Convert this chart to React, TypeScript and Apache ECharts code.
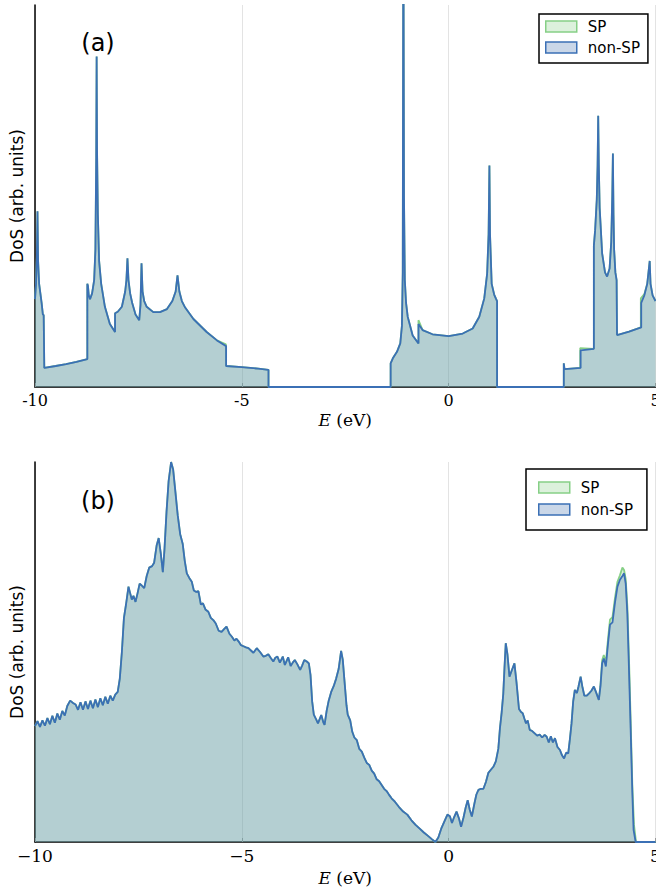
import React, { useEffect, useRef } from "react";
import * as echarts from "echarts";

// ---------- Panel (a): DoS vs E (eV), values normalized to axis top = 1 ----------
const dosA_nonSP: number[][] = [
  [-10.0, 0.23], [-9.975, 0.27], [-9.955, 0.34], [-9.94, 0.46], [-9.925, 0.33], [-9.9, 0.27],
  [-9.87, 0.245], [-9.84, 0.22], [-9.81, 0.19], [-9.79, 0.188], [-9.775, 0.05], [-9.5, 0.055],
  [-9.25, 0.06], [-9.0, 0.066], [-8.735, 0.073], [-8.735, 0.27], [-8.72, 0.265], [-8.7, 0.24],
  [-8.67, 0.23], [-8.62, 0.245], [-8.57, 0.28], [-8.54, 0.36], [-8.52, 0.6], [-8.51, 0.865],
  [-8.5, 0.62], [-8.48, 0.45], [-8.45, 0.33], [-8.4, 0.27], [-8.31, 0.21], [-8.19, 0.165],
  [-8.065, 0.144], [-8.065, 0.193], [-8.0, 0.197], [-7.9, 0.21], [-7.82, 0.25], [-7.79, 0.28],
  [-7.765, 0.337], [-7.74, 0.28], [-7.7, 0.245], [-7.65, 0.22], [-7.57, 0.19], [-7.48, 0.175],
  [-7.45, 0.215], [-7.425, 0.324], [-7.4, 0.25], [-7.36, 0.225], [-7.3, 0.21], [-7.14, 0.196],
  [-6.98, 0.196], [-6.81, 0.204], [-6.68, 0.225], [-6.6, 0.25], [-6.555, 0.292], [-6.51, 0.25],
  [-6.45, 0.225], [-6.37, 0.208], [-6.17, 0.178], [-5.85, 0.144], [-5.6, 0.122], [-5.38, 0.107],
  [-5.38, 0.055], [-5.0, 0.052], [-4.6, 0.048], [-4.355, 0.045], [-4.355, 0], [-1.403, 0],
  [-1.403, 0.062], [-1.35, 0.075], [-1.25, 0.092], [-1.17, 0.114], [-1.13, 0.16], [-1.11, 0.3],
  [-1.095, 1.3], [-1.08, 0.5], [-1.06, 0.28], [-1.03, 0.22], [-0.99, 0.184], [-0.87, 0.135],
  [-0.73, 0.114], [-0.73, 0.165], [-0.63, 0.149], [-0.39, 0.138], [0.0, 0.133], [0.34, 0.14],
  [0.58, 0.153], [0.74, 0.184], [0.86, 0.232], [0.93, 0.297], [0.965, 0.4], [0.985, 0.58],
  [1.0, 0.4], [1.04, 0.27], [1.1, 0.242], [1.14, 0.232], [1.17, 0.225], [1.17, 0], [2.783, 0],
  [2.783, 0.062], [2.8, 0.047], [3.19, 0.05], [3.19, 0.096], [3.51, 0.1], [3.51, 0.37],
  [3.54, 0.41], [3.58, 0.49], [3.6, 0.58], [3.615, 0.71], [3.63, 0.58], [3.65, 0.47],
  [3.71, 0.35], [3.78, 0.3], [3.83, 0.289], [3.89, 0.31], [3.93, 0.38], [3.955, 0.5],
  [3.97, 0.611], [3.985, 0.45], [4.0, 0.36], [4.03, 0.3], [4.06, 0.28], [4.07, 0.136],
  [4.36, 0.145], [4.655, 0.156], [4.655, 0.22], [4.73, 0.24], [4.8, 0.27], [4.84, 0.31],
  [4.86, 0.33], [4.88, 0.27], [4.93, 0.24], [5.0, 0.225],
];

const dosA_SP: number[][] = [
  [-10.0, 0.23], [-9.975, 0.27], [-9.955, 0.34], [-9.94, 0.46], [-9.925, 0.33], [-9.9, 0.27],
  [-9.87, 0.245], [-9.84, 0.22], [-9.81, 0.19], [-9.79, 0.188], [-9.775, 0.05], [-9.5, 0.055],
  [-9.25, 0.06], [-9.0, 0.066], [-8.735, 0.073], [-8.735, 0.27], [-8.72, 0.265], [-8.7, 0.24],
  [-8.67, 0.23], [-8.62, 0.245], [-8.57, 0.28], [-8.54, 0.36], [-8.52, 0.6], [-8.51, 0.865],
  [-8.5, 0.62], [-8.48, 0.45], [-8.45, 0.33], [-8.4, 0.27], [-8.31, 0.21], [-8.19, 0.165],
  [-8.065, 0.144], [-8.065, 0.193], [-8.0, 0.197], [-7.9, 0.21], [-7.82, 0.25], [-7.79, 0.28],
  [-7.765, 0.337], [-7.74, 0.28], [-7.7, 0.245], [-7.65, 0.22], [-7.57, 0.19], [-7.48, 0.175],
  [-7.45, 0.215], [-7.425, 0.324], [-7.4, 0.25], [-7.36, 0.225], [-7.3, 0.21], [-7.14, 0.196],
  [-6.98, 0.196], [-6.81, 0.204], [-6.68, 0.225], [-6.6, 0.25], [-6.555, 0.292], [-6.51, 0.25],
  [-6.45, 0.225], [-6.37, 0.208], [-6.17, 0.178], [-5.85, 0.144], [-5.6, 0.122], [-5.385, 0.112],
  [-5.38, 0.055], [-5.0, 0.052], [-4.6, 0.048], [-4.355, 0.045], [-4.355, 0], [-1.403, 0],
  [-1.403, 0.062], [-1.35, 0.075], [-1.25, 0.092], [-1.17, 0.114], [-1.13, 0.16], [-1.11, 0.3],
  [-1.095, 1.3], [-1.08, 0.5], [-1.06, 0.28], [-1.03, 0.22], [-0.99, 0.184], [-0.87, 0.135],
  [-0.73, 0.114], [-0.73, 0.175], [-0.63, 0.149], [-0.39, 0.138], [0.0, 0.133], [0.34, 0.14],
  [0.58, 0.153], [0.74, 0.184], [0.86, 0.232], [0.93, 0.297], [0.965, 0.4], [0.985, 0.58],
  [1.0, 0.4], [1.04, 0.27], [1.1, 0.242], [1.14, 0.232], [1.17, 0.225], [1.17, 0], [2.783, 0],
  [2.783, 0.062], [2.8, 0.047], [3.18, 0.05], [3.18, 0.102], [3.51, 0.1], [3.51, 0.37],
  [3.54, 0.41], [3.58, 0.49], [3.6, 0.58], [3.615, 0.71], [3.63, 0.58], [3.65, 0.47],
  [3.71, 0.35], [3.78, 0.3], [3.83, 0.289], [3.89, 0.31], [3.93, 0.38], [3.955, 0.5],
  [3.97, 0.611], [3.985, 0.45], [4.0, 0.36], [4.03, 0.3], [4.06, 0.28], [4.07, 0.136],
  [4.36, 0.145], [4.645, 0.156], [4.645, 0.232], [4.73, 0.243], [4.8, 0.27], [4.84, 0.31],
  [4.86, 0.33], [4.88, 0.27], [4.93, 0.24], [5.0, 0.225],
];

// ---------- Panel (b) ----------
const dosB_nonSP: number[][] = [
  [-10.0, 0.305], [-9.94, 0.318], [-9.88, 0.303], [-9.82, 0.32], [-9.76, 0.306], [-9.7, 0.326],
  [-9.64, 0.31], [-9.58, 0.332], [-9.52, 0.314], [-9.46, 0.338], [-9.4, 0.322], [-9.34, 0.345],
  [-9.28, 0.333], [-9.22, 0.358], [-9.15, 0.372], [-9.08, 0.366], [-9.02, 0.362], [-8.96, 0.348],
  [-8.9, 0.368], [-8.84, 0.348], [-8.78, 0.37], [-8.72, 0.35], [-8.66, 0.372], [-8.6, 0.352],
  [-8.54, 0.375], [-8.48, 0.355], [-8.42, 0.378], [-8.36, 0.36], [-8.3, 0.382], [-8.24, 0.364],
  [-8.18, 0.385], [-8.12, 0.372], [-8.06, 0.388], [-8.0, 0.395], [-7.95, 0.43], [-7.9, 0.5],
  [-7.85, 0.59], [-7.8, 0.625], [-7.74, 0.672], [-7.7, 0.655], [-7.66, 0.638], [-7.62, 0.648],
  [-7.57, 0.632], [-7.52, 0.655], [-7.47, 0.68], [-7.42, 0.675], [-7.36, 0.668], [-7.3, 0.7],
  [-7.24, 0.722], [-7.17, 0.726], [-7.12, 0.735], [-7.06, 0.78], [-7.01, 0.8], [-6.96, 0.76],
  [-6.91, 0.71], [-6.87, 0.77], [-6.82, 0.87], [-6.77, 0.95], [-6.71, 1.0], [-6.66, 0.98],
  [-6.61, 0.926], [-6.55, 0.86], [-6.49, 0.81], [-6.43, 0.785], [-6.38, 0.74], [-6.33, 0.707],
  [-6.27, 0.695], [-6.21, 0.685], [-6.16, 0.662], [-6.1, 0.658], [-6.05, 0.66], [-5.99, 0.625],
  [-5.94, 0.628], [-5.88, 0.612], [-5.81, 0.606], [-5.75, 0.59], [-5.69, 0.584], [-5.63, 0.575],
  [-5.56, 0.556], [-5.49, 0.553], [-5.43, 0.56], [-5.37, 0.567], [-5.3, 0.548], [-5.24, 0.54],
  [-5.18, 0.53], [-5.13, 0.535], [-5.08, 0.528], [-5.02, 0.518], [-4.96, 0.515], [-4.9, 0.512],
  [-4.84, 0.51], [-4.78, 0.504], [-4.72, 0.498], [-4.64, 0.51], [-4.56, 0.5], [-4.48, 0.488],
  [-4.42, 0.49], [-4.36, 0.494], [-4.3, 0.484], [-4.24, 0.475], [-4.19, 0.485], [-4.14, 0.488],
  [-4.08, 0.472], [-4.01, 0.488], [-3.96, 0.466], [-3.88, 0.486], [-3.82, 0.463], [-3.77, 0.472],
  [-3.72, 0.479], [-3.66, 0.468], [-3.59, 0.453], [-3.54, 0.465], [-3.49, 0.479], [-3.43, 0.475],
  [-3.38, 0.47], [-3.34, 0.44], [-3.3, 0.37], [-3.26, 0.335], [-3.2, 0.322], [-3.16, 0.312],
  [-3.08, 0.334], [-3.03, 0.315], [-3.0, 0.308], [-2.95, 0.345], [-2.9, 0.372], [-2.84, 0.395],
  [-2.78, 0.41], [-2.72, 0.43], [-2.66, 0.455], [-2.6, 0.503], [-2.56, 0.48], [-2.52, 0.426],
  [-2.47, 0.36], [-2.44, 0.335], [-2.38, 0.32], [-2.33, 0.29], [-2.28, 0.275], [-2.22, 0.268],
  [-2.16, 0.245], [-2.1, 0.238], [-2.04, 0.222], [-1.98, 0.208], [-1.92, 0.203], [-1.86, 0.188],
  [-1.8, 0.18], [-1.74, 0.165], [-1.68, 0.16], [-1.62, 0.15], [-1.56, 0.14], [-1.5, 0.134],
  [-1.44, 0.124], [-1.38, 0.115], [-1.3, 0.106], [-1.2, 0.092], [-1.1, 0.08], [-1.0, 0.072],
  [-0.9, 0.057], [-0.8, 0.045], [-0.7, 0.035], [-0.6, 0.025], [-0.5, 0.016], [-0.4, 0.007],
  [-0.32, 0.0], [-0.25, 0.012], [-0.18, 0.035], [-0.1, 0.055], [-0.03, 0.072], [0.03, 0.068],
  [0.08, 0.05], [0.13, 0.065], [0.19, 0.08], [0.25, 0.062], [0.3, 0.04], [0.36, 0.065],
  [0.41, 0.09], [0.46, 0.11], [0.51, 0.085], [0.56, 0.067], [0.62, 0.1], [0.67, 0.125],
  [0.72, 0.137], [0.78, 0.14], [0.84, 0.14], [0.9, 0.158], [0.96, 0.182], [1.02, 0.19],
  [1.08, 0.198], [1.14, 0.212], [1.2, 0.245], [1.24, 0.3], [1.28, 0.34], [1.32, 0.39],
  [1.35, 0.46], [1.38, 0.523], [1.42, 0.495], [1.47, 0.435], [1.52, 0.45], [1.59, 0.47],
  [1.64, 0.42], [1.7, 0.35], [1.75, 0.342], [1.79, 0.339], [1.83, 0.325], [1.87, 0.312],
  [1.91, 0.32], [1.96, 0.295], [2.02, 0.292], [2.08, 0.286], [2.14, 0.28], [2.2, 0.283],
  [2.26, 0.275], [2.32, 0.282], [2.37, 0.277], [2.42, 0.262], [2.47, 0.278], [2.52, 0.262],
  [2.57, 0.273], [2.63, 0.25], [2.69, 0.242], [2.74, 0.228], [2.79, 0.22], [2.84, 0.235],
  [2.89, 0.233], [2.93, 0.27], [2.97, 0.312], [3.01, 0.37], [3.05, 0.4], [3.1, 0.392],
  [3.14, 0.41], [3.19, 0.435], [3.23, 0.41], [3.28, 0.385], [3.34, 0.385], [3.4, 0.392],
  [3.45, 0.398], [3.51, 0.409], [3.56, 0.395], [3.63, 0.374], [3.67, 0.41], [3.71, 0.47],
  [3.75, 0.483], [3.8, 0.462], [3.85, 0.52], [3.9, 0.572], [3.96, 0.578], [4.02, 0.63],
  [4.08, 0.672], [4.14, 0.69], [4.2, 0.7], [4.24, 0.707], [4.28, 0.68], [4.32, 0.6],
  [4.36, 0.45], [4.4, 0.295], [4.44, 0.13], [4.47, 0.032], [4.52, 0.0], [5.0, 0.0],
];

const dosB_SP: number[][] = [
  [-10.0, 0.305], [-9.94, 0.318], [-9.88, 0.303], [-9.82, 0.32], [-9.76, 0.306], [-9.7, 0.326],
  [-9.64, 0.31], [-9.58, 0.332], [-9.52, 0.314], [-9.46, 0.338], [-9.4, 0.322], [-9.34, 0.345],
  [-9.28, 0.333], [-9.22, 0.358], [-9.15, 0.372], [-9.08, 0.366], [-9.02, 0.362], [-8.96, 0.348],
  [-8.9, 0.368], [-8.84, 0.348], [-8.78, 0.37], [-8.72, 0.35], [-8.66, 0.372], [-8.6, 0.352],
  [-8.54, 0.375], [-8.48, 0.355], [-8.42, 0.378], [-8.36, 0.36], [-8.3, 0.382], [-8.24, 0.364],
  [-8.18, 0.385], [-8.12, 0.372], [-8.06, 0.388], [-8.0, 0.395], [-7.95, 0.43], [-7.9, 0.5],
  [-7.85, 0.59], [-7.8, 0.625], [-7.74, 0.672], [-7.7, 0.655], [-7.66, 0.638], [-7.62, 0.648],
  [-7.57, 0.632], [-7.52, 0.655], [-7.47, 0.68], [-7.42, 0.675], [-7.36, 0.668], [-7.3, 0.7],
  [-7.24, 0.722], [-7.17, 0.726], [-7.12, 0.735], [-7.06, 0.78], [-7.01, 0.8], [-6.96, 0.76],
  [-6.91, 0.71], [-6.87, 0.77], [-6.82, 0.87], [-6.77, 0.95], [-6.71, 1.0], [-6.66, 0.98],
  [-6.61, 0.926], [-6.55, 0.86], [-6.49, 0.81], [-6.43, 0.785], [-6.38, 0.74], [-6.33, 0.707],
  [-6.27, 0.695], [-6.21, 0.685], [-6.16, 0.662], [-6.1, 0.658], [-6.05, 0.66], [-5.99, 0.625],
  [-5.94, 0.628], [-5.88, 0.612], [-5.81, 0.606], [-5.75, 0.59], [-5.69, 0.584], [-5.63, 0.575],
  [-5.56, 0.556], [-5.49, 0.553], [-5.43, 0.56], [-5.37, 0.567], [-5.3, 0.548], [-5.24, 0.54],
  [-5.18, 0.53], [-5.13, 0.535], [-5.08, 0.528], [-5.02, 0.518], [-4.96, 0.515], [-4.9, 0.512],
  [-4.84, 0.51], [-4.78, 0.504], [-4.72, 0.498], [-4.64, 0.51], [-4.56, 0.5], [-4.48, 0.488],
  [-4.42, 0.49], [-4.36, 0.494], [-4.3, 0.484], [-4.24, 0.475], [-4.19, 0.485], [-4.14, 0.488],
  [-4.08, 0.472], [-4.01, 0.488], [-3.96, 0.466], [-3.88, 0.486], [-3.82, 0.463], [-3.77, 0.472],
  [-3.72, 0.479], [-3.66, 0.468], [-3.59, 0.453], [-3.54, 0.465], [-3.49, 0.479], [-3.43, 0.475],
  [-3.38, 0.47], [-3.34, 0.44], [-3.3, 0.37], [-3.26, 0.335], [-3.2, 0.322], [-3.16, 0.312],
  [-3.08, 0.334], [-3.03, 0.315], [-3.0, 0.308], [-2.95, 0.345], [-2.9, 0.372], [-2.84, 0.395],
  [-2.78, 0.41], [-2.72, 0.43], [-2.66, 0.455], [-2.6, 0.503], [-2.56, 0.48], [-2.52, 0.426],
  [-2.47, 0.36], [-2.44, 0.335], [-2.38, 0.32], [-2.33, 0.29], [-2.28, 0.275], [-2.22, 0.268],
  [-2.16, 0.245], [-2.1, 0.238], [-2.04, 0.222], [-1.98, 0.208], [-1.92, 0.203], [-1.86, 0.188],
  [-1.8, 0.18], [-1.74, 0.165], [-1.68, 0.16], [-1.62, 0.15], [-1.56, 0.14], [-1.5, 0.134],
  [-1.44, 0.124], [-1.38, 0.115], [-1.3, 0.106], [-1.2, 0.092], [-1.1, 0.08], [-1.0, 0.072],
  [-0.9, 0.057], [-0.8, 0.045], [-0.7, 0.035], [-0.6, 0.025], [-0.5, 0.016], [-0.4, 0.007],
  [-0.32, 0.0], [-0.25, 0.012], [-0.18, 0.035], [-0.1, 0.055], [-0.03, 0.072], [0.03, 0.068],
  [0.08, 0.05], [0.13, 0.065], [0.19, 0.08], [0.25, 0.062], [0.3, 0.04], [0.36, 0.065],
  [0.41, 0.09], [0.46, 0.11], [0.51, 0.085], [0.56, 0.067], [0.62, 0.1], [0.67, 0.125],
  [0.72, 0.137], [0.78, 0.14], [0.84, 0.14], [0.9, 0.158], [0.96, 0.182], [1.02, 0.19],
  [1.08, 0.198], [1.14, 0.212], [1.2, 0.245], [1.24, 0.3], [1.28, 0.34], [1.32, 0.39],
  [1.35, 0.46], [1.38, 0.523], [1.42, 0.495], [1.47, 0.435], [1.52, 0.45], [1.59, 0.47],
  [1.64, 0.42], [1.7, 0.35], [1.75, 0.342], [1.79, 0.339], [1.83, 0.325], [1.87, 0.312],
  [1.91, 0.32], [1.96, 0.295], [2.02, 0.292], [2.08, 0.286], [2.14, 0.28], [2.2, 0.283],
  [2.26, 0.275], [2.32, 0.282], [2.37, 0.277], [2.42, 0.262], [2.47, 0.278], [2.52, 0.262],
  [2.57, 0.273], [2.63, 0.25], [2.69, 0.242], [2.74, 0.228], [2.79, 0.22], [2.84, 0.235],
  [2.89, 0.233], [2.93, 0.27], [2.97, 0.312], [3.01, 0.37], [3.05, 0.4], [3.1, 0.392],
  [3.14, 0.41], [3.19, 0.435], [3.23, 0.41], [3.28, 0.385], [3.34, 0.385], [3.4, 0.392],
  [3.45, 0.398], [3.51, 0.409], [3.56, 0.395], [3.63, 0.374], [3.67, 0.415], [3.71, 0.478],
  [3.75, 0.492], [3.8, 0.472], [3.85, 0.532], [3.9, 0.585], [3.96, 0.592], [4.02, 0.642],
  [4.08, 0.685], [4.14, 0.702], [4.2, 0.722], [4.24, 0.716], [4.28, 0.692], [4.32, 0.62],
  [4.36, 0.48], [4.4, 0.32], [4.44, 0.15], [4.48, 0.045], [4.53, 0.0], [5.0, 0.0],
];

const xTicks = [-10, -5, 0, 5];
const legendNames = ["SP", "non-SP"];
const panelLabels = ["(a)", "(b)"];

const SP_LINE = "#86cf86";
const SP_FILL = "rgba(120,200,120,0.25)";
const NSP_LINE = "#3b70b5";
const NSP_FILL = "rgba(103,143,189,0.35)";

export default function App() {
  const ref = useRef<HTMLDivElement>(null);
  useEffect(() => {
    if (!ref.current) return;
    const chart = echarts.init(ref.current, null, { renderer: "svg" });

    const grids = [
      { left: 35, top: 5, width: 620.5, height: 382, outerBoundsMode: "none", containLabel: false },
      { left: 35, top: 462, width: 620.5, height: 380, outerBoundsMode: "none", containLabel: false },
    ];

    const xAxisFor = (idx: number, minusChar: string, axisColor: string, axisWidth: number, labelSize: number, gap: number) => ({
      gridIndex: idx,
      type: "value",
      min: xTicks[0],
      max: xTicks[xTicks.length - 1],
      interval: 5,
      axisLine: { show: true, onZero: false, lineStyle: { color: axisColor, width: axisWidth } },
      axisTick: { show: true, inside: true, length: 4, lineStyle: { color: "#9a9a9a" } },
      axisLabel: {
        color: "#000",
        fontFamily: "DejaVu Serif",
        fontSize: labelSize,
        margin: 5,
        formatter: (v: number) => (v < 0 ? minusChar + Math.abs(v) : String(v)),
      },
      splitLine: { show: true, lineStyle: { color: "#e3e3e3", width: 1 } },
      name: "{i|E} (eV)",
      nameLocation: "middle",
      nameGap: gap,
      nameTextStyle: {
        color: "#000",
        fontFamily: "DejaVu Serif",
        fontSize: 17,
        rich: { i: { fontStyle: "italic", fontFamily: "DejaVu Serif", fontSize: 17, color: "#000" } },
      },
    });

    const yAxisFor = (idx: number) => ({
      gridIndex: idx,
      type: "value",
      min: 0,
      max: 1,
      axisLine: { show: true, onZero: false, lineStyle: { color: "#000", width: 1.5 } },
      axisTick: { show: false },
      axisLabel: { show: false },
      splitLine: { show: false },
      name: "DoS (arb. units)",
      nameLocation: "middle",
      nameGap: 10,
      nameRotate: 90,
      nameTextStyle: { color: "#000", fontFamily: "DejaVu Sans", fontSize: 17 },
    });

    const legendFor = (left: number, top: number, padding: number[], gap: number) => ({
      orient: "vertical",
      left,
      top,
      padding,
      itemWidth: 31,
      itemHeight: 11,
      itemGap: gap,
      icon: "rect",
      selectedMode: false,
      borderColor: "#000",
      borderWidth: 1.5,
      backgroundColor: "#fff",
      textStyle: { color: "#000", fontFamily: "DejaVu Sans", fontSize: 15, lineHeight: 15, padding: [0, 0, 0, 6] },
      data: [
        { name: legendNames[0], icon: "rect", itemStyle: { color: "#dcf1dc", borderColor: SP_LINE, borderWidth: 1.5 } },
        { name: legendNames[1], icon: "rect", itemStyle: { color: "#cad7e8", borderColor: NSP_LINE, borderWidth: 1.5 } },
      ],
    });

    const seriesFor = (idx: number, sp: number[][], nsp: number[][]) => [
      {
        type: "line",
        name: legendNames[0],
        xAxisIndex: idx,
        yAxisIndex: idx,
        data: sp,
        symbol: "none",
        showSymbol: false,
        lineStyle: { color: SP_LINE, width: 1.8 },
        itemStyle: { color: SP_LINE },
        areaStyle: { color: SP_FILL, opacity: 1, origin: "start" },
        z: 2,
      },
      {
        type: "line",
        name: legendNames[1],
        xAxisIndex: idx,
        yAxisIndex: idx,
        data: nsp,
        symbol: "none",
        showSymbol: false,
        lineStyle: { color: NSP_LINE, width: 1.8 },
        itemStyle: { color: NSP_LINE },
        areaStyle: { color: NSP_FILL, opacity: 1, origin: "start" },
        z: 3,
      },
    ];

    chart.setOption({
      animation: false,
      backgroundColor: "#fff",
      grid: grids,
      xAxis: [xAxisFor(0, "-", "#3a3a3a", 2, 16, 24), xAxisFor(1, "\u2212", "#000", 1.5, 17, 27)],
      yAxis: [yAxisFor(0), yAxisFor(1)],
      legend: [legendFor(539, 14, [5, 8, 8, 6], 6), legendFor(526, 469, [11, 14, 13, 12], 7)],
      series: [...seriesFor(0, dosA_SP, dosA_nonSP), ...seriesFor(1, dosB_SP, dosB_nonSP)],
      graphic: [
        {
          type: "text",
          x: 98,
          y: 43,
          style: { text: panelLabels[0], font: '24px "DejaVu Sans"', fill: "#000", align: "center", verticalAlign: "middle" },
        },
        {
          type: "text",
          x: 98,
          y: 501,
          style: { text: panelLabels[1], font: '24px "DejaVu Sans"', fill: "#000", align: "center", verticalAlign: "middle" },
        },
      ],
    });

    return () => chart.dispose();
  }, []);

  return (
    <div
      ref={ref}
      style={{ position: "absolute", left: 0, top: 0, width: 656, height: 890, background: "#fff" }}
    />
  );
}
